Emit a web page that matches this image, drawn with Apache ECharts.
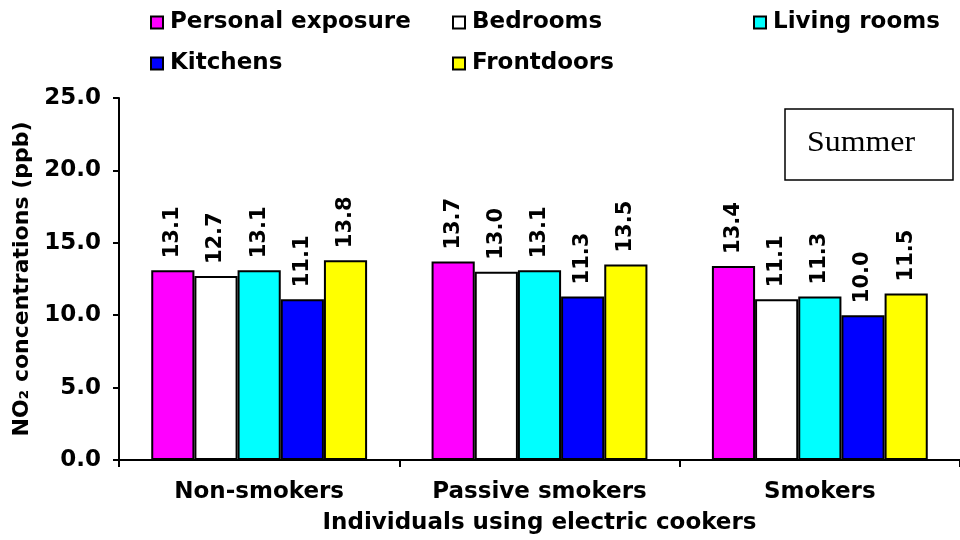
<!DOCTYPE html>
<html>
<head>
<meta charset="utf-8">
<script src="https://cdn.jsdelivr.net/npm/echarts@6/dist/echarts.min.js"></script>
<style>
  html, body { margin: 0; padding: 0; background: #fff; }
  #chart { width: 960px; height: 540px; }
</style>
</head>
<body>
<div id="chart"></div>
<script>
// Groups of people (all using electric cookers)
const categories = ['Non-smokers', 'Passive smokers', 'Smokers'];

// Mean NO2 concentrations in ppb, summer
const personalExposure = [13.1, 13.7, 13.4];
const bedrooms         = [12.7, 13.0, 11.1];
const livingRooms      = [13.1, 13.1, 11.3];
const kitchens         = [11.1, 11.3, 10.0];
const frontdoors       = [13.8, 13.5, 11.5];

const seriesNames  = ['Personal exposure', 'Bedrooms', 'Living rooms', 'Kitchens', 'Frontdoors'];
const seriesValues = [personalExposure, bedrooms, livingRooms, kitchens, frontdoors];
const seriesColors = ['#FF00FF', '#FFFFFF', '#00FFFF', '#0000FF', '#FFFF00'];

const FONT = 'DejaVu Sans';

const series = seriesNames.map((name, i) => ({
  name: name,
  type: 'bar',
  data: seriesValues[i],
  barGap: '0%',
  barCategoryGap: '23%',
  itemStyle: { color: seriesColors[i], borderColor: '#000', borderWidth: 2 },
  label: {
    show: true,
    position: 'top',
    rotate: 90,
    align: 'left',
    verticalAlign: 'middle',
    distance: 12,
    formatter: p => p.value.toFixed(1),
    fontFamily: FONT,
    fontWeight: 'bold',
    fontSize: 21,
    color: '#000'
  }
}));

// Legend entries laid out in two rows
const legendSpots = [
  { left: 150, top: 11 },
  { left: 452, top: 11 },
  { left: 753, top: 11 },
  { left: 150, top: 52 },
  { left: 452, top: 52 }
];
const legends = seriesNames.map((name, i) => ({
  data: [name],
  left: legendSpots[i].left,
  top: legendSpots[i].top,
  padding: 0,
  icon: 'rect',
  itemWidth: 12,
  itemHeight: 12,
  itemGap: 0,
  itemStyle: { borderColor: '#000', borderWidth: 2 },
  selectedMode: false,
  textStyle: { fontFamily: FONT, fontWeight: 'bold', fontSize: 23, color: '#000', padding: [0, 0, 0, 2] }
}));

const chart = echarts.init(document.getElementById('chart'), null, { renderer: 'canvas' });
chart.setOption({
  animation: false,
  backgroundColor: '#fff',
  legend: legends,
  grid: { left: 119, right: 0, top: 98, bottom: 80, containLabel: false },
  xAxis: {
    type: 'category',
    data: categories,
    name: 'Individuals using electric cookers',
    nameLocation: 'middle',
    nameGap: 52,
    nameTextStyle: { fontFamily: FONT, fontWeight: 'bold', fontSize: 23, color: '#000' },
    axisLine: { lineStyle: { color: '#000', width: 2 } },
    axisTick: { show: true, alignWithLabel: false, length: 7, lineStyle: { color: '#000', width: 2 } },
    axisLabel: { fontFamily: FONT, fontWeight: 'bold', fontSize: 23, color: '#000', margin: 21 }
  },
  yAxis: {
    type: 'value',
    min: 0,
    max: 25,
    interval: 5,
    name: 'NO\u2082 concentrations (ppb)',
    nameLocation: 'middle',
    nameGap: 82,
    nameTextStyle: { fontFamily: FONT, fontWeight: 'bold', fontSize: 22, color: '#000' },
    axisLine: { show: true, lineStyle: { color: '#000', width: 2 } },
    axisTick: { show: true, length: 6, lineStyle: { color: '#000', width: 2 } },
    splitLine: { show: false },
    axisLabel: {
      fontFamily: FONT, fontWeight: 'bold', fontSize: 23, color: '#000', margin: 18,
      formatter: v => v.toFixed(1)
    }
  },
  graphic: [
    {
      type: 'rect',
      shape: { x: 785, y: 109, width: 168, height: 71 },
      style: { fill: '#fff', stroke: '#000', lineWidth: 1.5 }
    },
    {
      type: 'text',
      x: 807,
      y: 143,
      scaleX: 1.1,
      style: {
        text: 'Summer',
        x: 0, y: 0,
        font: '29px "Liberation Serif"',
        fill: '#000',
        verticalAlign: 'middle',
        align: 'left'
      }
    }
  ],
  series: series
});
</script>
</body>
</html>
